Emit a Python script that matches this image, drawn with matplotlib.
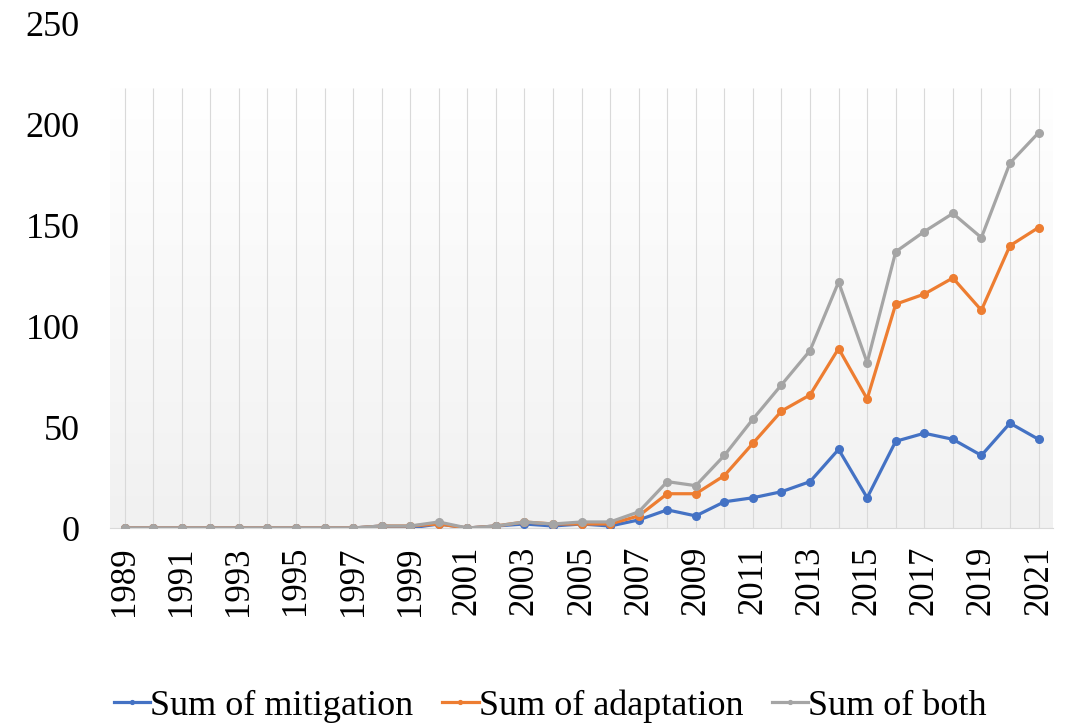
import numpy as np
import matplotlib.pyplot as plt
from matplotlib.colors import LinearSegmentedColormap

# data
years = list(range(1989, 2022))
mitigation = [0, 0, 0, 0, 0, 0, 0, 0, 0, 1, 0, 2, 0, 1, 2, 1, 2, 1, 4, 9, 6,
              13, 15, 18, 23, 39, 15, 43, 47, 44, 36, 52, 44]
adaptation = [0, 0, 0, 0, 0, 0, 0, 0, 0, 1, 1, 2, 0, 1, 3, 2, 2, 2, 6, 17, 17,
              26, 42, 58, 66, 89, 64, 111, 116, 124, 108, 140, 149]
both = [0, 0, 0, 0, 0, 0, 0, 0, 0, 1, 1, 3, 0, 1, 3, 2, 3, 3, 8, 23, 21,
        36, 54, 71, 88, 122, 82, 137, 147, 156, 144, 181, 196]
tick_years = years[::2]

plt.rcParams['font.family'] = ['Liberation Serif', 'DejaVu Serif']

fig = plt.figure(figsize=(10.71, 7.24), dpi=100)
ax = fig.add_axes([0.103, 0.2707, 0.880, 0.6963])

# plot area (excel style) only reaches ~218, gradient white -> light grey
area_top = 218.4
grad = np.linspace(1, 0, 256).reshape(-1, 1)
cmap = LinearSegmentedColormap.from_list('bg', ['#f1f1f1', '#ffffff'])
ax.imshow(grad, extent=[1988.5, 2021.5, 0, area_top], aspect='auto',
          cmap=cmap, zorder=0)
ax.vlines(years, 0, area_top, color='#d9d9d9', lw=0.8, zorder=1)

ax.plot(years, mitigation, color='#4472C4', lw=2.3, marker='o', ms=5.5,
        label='Sum of mitigation', zorder=3)
ax.plot(years, adaptation, color='#ED7D31', lw=2.3, marker='o', ms=5.5,
        label='Sum of adaptation', zorder=4)
ax.plot(years, both, color='#A5A5A5', lw=2.3, marker='o', ms=5.5,
        label='Sum of both', zorder=5)

ax.set_xlim(1988.5, 2021.5)
ax.set_ylim(0, 250)
ax.set_yticks([0, 50, 100, 150, 200, 250])
ax.set_xticks(tick_years)
ax.set_xticklabels([str(y) for y in tick_years], rotation=90)
ax.tick_params(axis='x', labelsize=25, length=0, pad=13)
ax.tick_params(axis='y', labelsize=26, length=0, pad=22)

for s in ['top', 'right', 'left']:
    ax.spines[s].set_visible(False)
ax.spines['bottom'].set_color('#d9d9d9')

fig.legend(*ax.get_legend_handles_labels(), loc='center',
           bbox_to_anchor=(0.514, 0.025), ncol=3, frameon=False,
           fontsize=26, handlelength=1.0, handletextpad=0.0,
           columnspacing=0.8, markerscale=0.5)

fig.savefig('out.png', dpi=100)
